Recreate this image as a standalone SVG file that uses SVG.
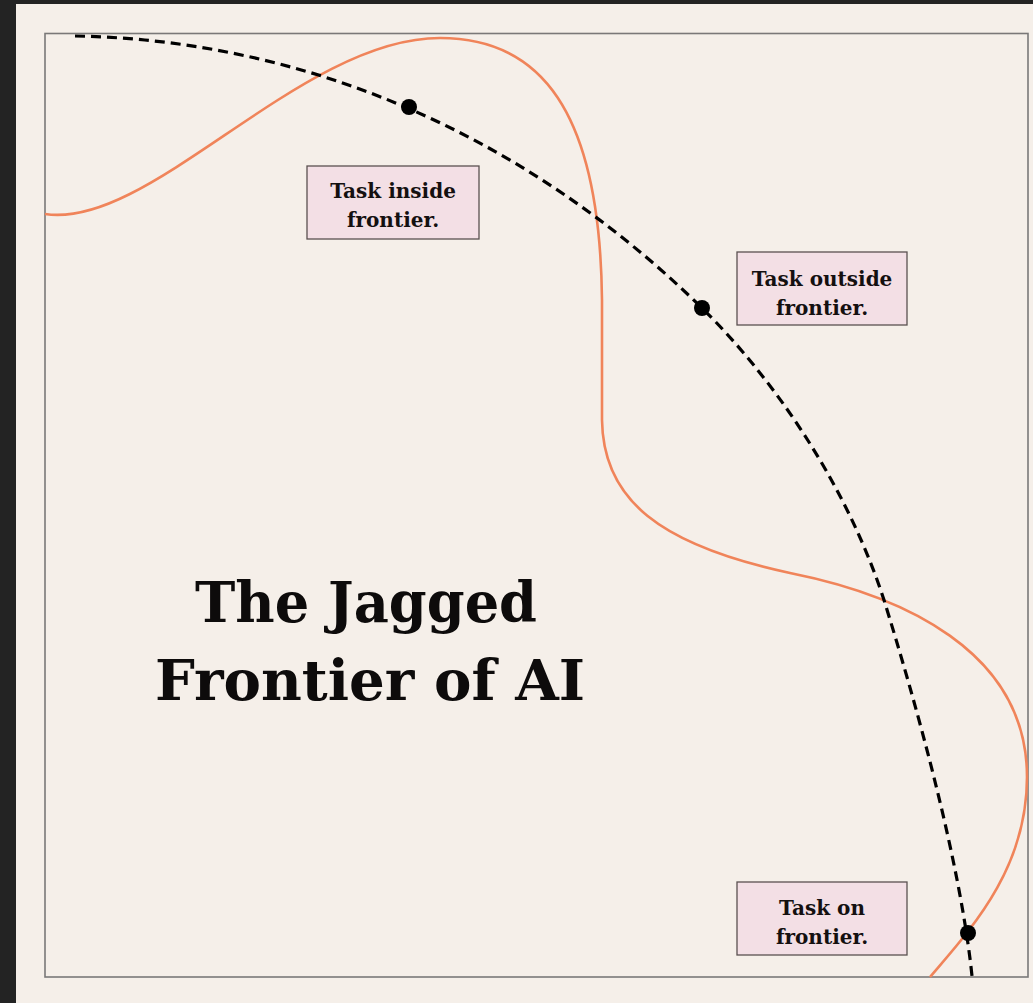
<svg xmlns="http://www.w3.org/2000/svg" width="1033" height="1003" viewBox="0 0 1033 1003">
<style>
.lbl{fill:#f3dfe5;stroke:#5a5050;stroke-width:1.3}
.lt{font-family:"DejaVu Serif","Liberation Serif",serif;font-weight:bold;font-size:20px;fill:#141010;text-anchor:middle}
.title{font-family:"DejaVu Serif","Liberation Serif",serif;font-weight:bold;font-size:56px;fill:#0d0b0b;text-anchor:middle}
.dot{fill:#000}
</style>
<rect x="0" y="0" width="1033" height="1003" fill="#232323"/>
<rect x="16" y="4" width="1017" height="999" fill="#f5efe9"/>
<rect id="frame" x="45" y="33.5" width="983" height="943.5" fill="none" stroke="#7a7878" stroke-width="1.6"/>
<g id="connectors">
<path id="jagged" d="M45,214 C150,230 300,38 440,38 C540,38 600,110 602,300 L602,420 C603,500 660,545 790,573 C900,595 1027,650 1027,777 C1027,870 970,930 930,977" fill="none" stroke="#f0845a" stroke-width="2.6"/>
<path id="frontier" d="M75,36 C300,40 520,130 702,308 C770,375 845,480 884,600 C915,700 960,860 972,976" fill="none" stroke="#000" stroke-width="3.2" stroke-dasharray="10 6"/>
</g>
<g id="dot-inside"><circle class="dot" cx="409" cy="107" r="8"/></g>
<g id="dot-outside"><circle class="dot" cx="702" cy="308" r="8"/></g>
<g id="dot-on"><circle class="dot" cx="968" cy="933" r="8"/></g>
<g id="label-inside">
<rect class="lbl" x="307" y="166" width="172" height="73"/>
<text class="lt" x="393" y="198">Task inside</text>
<text class="lt" x="393" y="227">frontier.</text>
</g>
<g id="label-outside">
<rect class="lbl" x="737" y="252" width="170" height="73"/>
<text class="lt" x="822" y="286">Task outside</text>
<text class="lt" x="822" y="315">frontier.</text>
</g>
<g id="label-on">
<rect class="lbl" x="737" y="882" width="170" height="73"/>
<text class="lt" x="822" y="915">Task on</text>
<text class="lt" x="822" y="944">frontier.</text>
</g>
<g id="title">
<text class="title" x="366" y="622" textLength="342" lengthAdjust="spacingAndGlyphs">The Jagged</text>
<text class="title" x="370" y="700" textLength="430" lengthAdjust="spacingAndGlyphs">Frontier of AI</text>
</g>
</svg>
